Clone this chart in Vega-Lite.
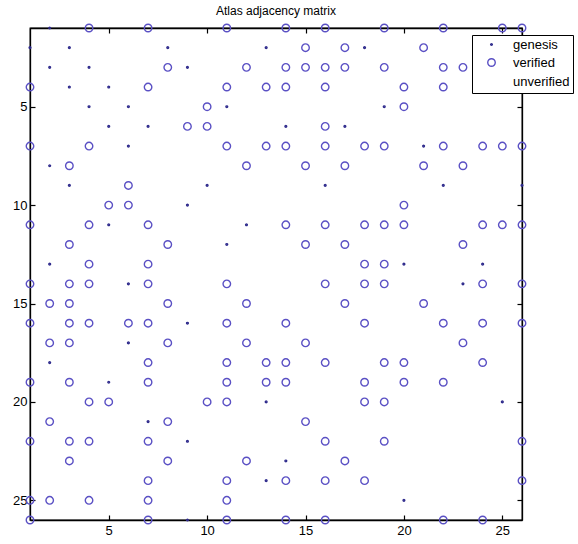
{
  "$schema": "https://vega.github.io/schema/vega-lite/v6.json",
  "autosize": {"type": "none"},
  "padding": {"left": 30, "top": 28, "right": 56, "bottom": 24},
  "width": 492,
  "height": 492,
  "background": "white",
  "title": {"text": "Atlas adjacency matrix", "font": "Liberation Sans", "fontSize": 12, "fontWeight": "normal", "color": "black", "offset": 3},
  "config": {
    "view": {"stroke": "black", "strokeWidth": 1.3},
    "axis": {"grid": false, "domainColor": "black", "domainWidth": 1.3, "tickColor": "black", "tickWidth": 1.2, "labelColor": "black", "labelFont": "Liberation Sans", "labelFontSize": 13, "tickSize": -5, "title": null}
  },
  "data": {"values": [
    {"row":1,"col":2,"type":"genesis"},{"row":1,"col":4,"type":"verified"},{"row":1,"col":7,"type":"verified"},{"row":1,"col":11,"type":"verified"},{"row":1,"col":14,"type":"verified"},{"row":1,"col":16,"type":"verified"},{"row":1,"col":19,"type":"verified"},{"row":1,"col":22,"type":"verified"},{"row":1,"col":25,"type":"verified"},{"row":1,"col":26,"type":"verified"},
    {"row":2,"col":1,"type":"genesis"},{"row":2,"col":3,"type":"genesis"},{"row":2,"col":8,"type":"genesis"},{"row":2,"col":13,"type":"genesis"},{"row":2,"col":18,"type":"genesis"},{"row":2,"col":15,"type":"verified"},{"row":2,"col":17,"type":"verified"},{"row":2,"col":21,"type":"verified"},{"row":2,"col":25,"type":"verified"},
    {"row":3,"col":2,"type":"genesis"},{"row":3,"col":4,"type":"genesis"},{"row":3,"col":9,"type":"genesis"},{"row":3,"col":8,"type":"verified"},{"row":3,"col":12,"type":"verified"},{"row":3,"col":14,"type":"verified"},{"row":3,"col":15,"type":"verified"},{"row":3,"col":16,"type":"verified"},{"row":3,"col":17,"type":"verified"},{"row":3,"col":19,"type":"verified"},{"row":3,"col":22,"type":"verified"},{"row":3,"col":23,"type":"verified"},
    {"row":4,"col":3,"type":"genesis"},{"row":4,"col":5,"type":"genesis"},{"row":4,"col":1,"type":"verified"},{"row":4,"col":7,"type":"verified"},{"row":4,"col":11,"type":"verified"},{"row":4,"col":13,"type":"verified"},{"row":4,"col":14,"type":"verified"},{"row":4,"col":16,"type":"verified"},{"row":4,"col":20,"type":"verified"},{"row":4,"col":22,"type":"verified"},{"row":4,"col":25,"type":"verified"},
    {"row":5,"col":4,"type":"genesis"},{"row":5,"col":6,"type":"genesis"},{"row":5,"col":11,"type":"genesis"},{"row":5,"col":19,"type":"genesis"},{"row":5,"col":10,"type":"verified"},{"row":5,"col":20,"type":"verified"},
    {"row":6,"col":5,"type":"genesis"},{"row":6,"col":7,"type":"genesis"},{"row":6,"col":14,"type":"genesis"},{"row":6,"col":17,"type":"genesis"},{"row":6,"col":9,"type":"verified"},{"row":6,"col":10,"type":"verified"},{"row":6,"col":16,"type":"verified"},
    {"row":7,"col":6,"type":"genesis"},{"row":7,"col":21,"type":"genesis"},{"row":7,"col":1,"type":"verified"},{"row":7,"col":4,"type":"verified"},{"row":7,"col":11,"type":"verified"},{"row":7,"col":13,"type":"verified"},{"row":7,"col":14,"type":"verified"},{"row":7,"col":16,"type":"verified"},{"row":7,"col":18,"type":"verified"},{"row":7,"col":19,"type":"verified"},{"row":7,"col":22,"type":"verified"},{"row":7,"col":24,"type":"verified"},{"row":7,"col":25,"type":"verified"},{"row":7,"col":26,"type":"verified"},
    {"row":8,"col":2,"type":"genesis"},{"row":8,"col":3,"type":"verified"},{"row":8,"col":12,"type":"verified"},{"row":8,"col":15,"type":"verified"},{"row":8,"col":17,"type":"verified"},{"row":8,"col":21,"type":"verified"},{"row":8,"col":23,"type":"verified"},
    {"row":9,"col":3,"type":"genesis"},{"row":9,"col":10,"type":"genesis"},{"row":9,"col":16,"type":"genesis"},{"row":9,"col":22,"type":"genesis"},{"row":9,"col":26,"type":"genesis"},{"row":9,"col":6,"type":"verified"},
    {"row":10,"col":9,"type":"genesis"},{"row":10,"col":5,"type":"verified"},{"row":10,"col":6,"type":"verified"},{"row":10,"col":20,"type":"verified"},
    {"row":11,"col":5,"type":"genesis"},{"row":11,"col":12,"type":"genesis"},{"row":11,"col":1,"type":"verified"},{"row":11,"col":4,"type":"verified"},{"row":11,"col":7,"type":"verified"},{"row":11,"col":14,"type":"verified"},{"row":11,"col":16,"type":"verified"},{"row":11,"col":18,"type":"verified"},{"row":11,"col":19,"type":"verified"},{"row":11,"col":20,"type":"verified"},{"row":11,"col":24,"type":"verified"},{"row":11,"col":25,"type":"verified"},{"row":11,"col":26,"type":"verified"},
    {"row":12,"col":11,"type":"genesis"},{"row":12,"col":3,"type":"verified"},{"row":12,"col":8,"type":"verified"},{"row":12,"col":15,"type":"verified"},{"row":12,"col":17,"type":"verified"},{"row":12,"col":23,"type":"verified"},
    {"row":13,"col":2,"type":"genesis"},{"row":13,"col":20,"type":"genesis"},{"row":13,"col":24,"type":"genesis"},{"row":13,"col":4,"type":"verified"},{"row":13,"col":7,"type":"verified"},{"row":13,"col":18,"type":"verified"},{"row":13,"col":19,"type":"verified"},
    {"row":14,"col":6,"type":"genesis"},{"row":14,"col":23,"type":"genesis"},{"row":14,"col":1,"type":"verified"},{"row":14,"col":3,"type":"verified"},{"row":14,"col":4,"type":"verified"},{"row":14,"col":7,"type":"verified"},{"row":14,"col":11,"type":"verified"},{"row":14,"col":16,"type":"verified"},{"row":14,"col":18,"type":"verified"},{"row":14,"col":19,"type":"verified"},{"row":14,"col":24,"type":"verified"},{"row":14,"col":26,"type":"verified"},
    {"row":15,"col":2,"type":"verified"},{"row":15,"col":3,"type":"verified"},{"row":15,"col":8,"type":"verified"},{"row":15,"col":12,"type":"verified"},{"row":15,"col":17,"type":"verified"},{"row":15,"col":21,"type":"verified"},
    {"row":16,"col":9,"type":"genesis"},{"row":16,"col":1,"type":"verified"},{"row":16,"col":3,"type":"verified"},{"row":16,"col":4,"type":"verified"},{"row":16,"col":6,"type":"verified"},{"row":16,"col":7,"type":"verified"},{"row":16,"col":11,"type":"verified"},{"row":16,"col":14,"type":"verified"},{"row":16,"col":18,"type":"verified"},{"row":16,"col":22,"type":"verified"},{"row":16,"col":24,"type":"verified"},{"row":16,"col":26,"type":"verified"},
    {"row":17,"col":6,"type":"genesis"},{"row":17,"col":2,"type":"verified"},{"row":17,"col":3,"type":"verified"},{"row":17,"col":8,"type":"verified"},{"row":17,"col":12,"type":"verified"},{"row":17,"col":15,"type":"verified"},{"row":17,"col":23,"type":"verified"},
    {"row":18,"col":2,"type":"genesis"},{"row":18,"col":7,"type":"verified"},{"row":18,"col":11,"type":"verified"},{"row":18,"col":13,"type":"verified"},{"row":18,"col":14,"type":"verified"},{"row":18,"col":16,"type":"verified"},{"row":18,"col":19,"type":"verified"},{"row":18,"col":20,"type":"verified"},{"row":18,"col":24,"type":"verified"},
    {"row":19,"col":5,"type":"genesis"},{"row":19,"col":1,"type":"verified"},{"row":19,"col":3,"type":"verified"},{"row":19,"col":7,"type":"verified"},{"row":19,"col":11,"type":"verified"},{"row":19,"col":13,"type":"verified"},{"row":19,"col":14,"type":"verified"},{"row":19,"col":18,"type":"verified"},{"row":19,"col":20,"type":"verified"},{"row":19,"col":22,"type":"verified"},
    {"row":20,"col":13,"type":"genesis"},{"row":20,"col":25,"type":"genesis"},{"row":20,"col":4,"type":"verified"},{"row":20,"col":5,"type":"verified"},{"row":20,"col":10,"type":"verified"},{"row":20,"col":11,"type":"verified"},{"row":20,"col":18,"type":"verified"},{"row":20,"col":19,"type":"verified"},
    {"row":21,"col":7,"type":"genesis"},{"row":21,"col":2,"type":"verified"},{"row":21,"col":8,"type":"verified"},{"row":21,"col":15,"type":"verified"},
    {"row":22,"col":9,"type":"genesis"},{"row":22,"col":1,"type":"verified"},{"row":22,"col":3,"type":"verified"},{"row":22,"col":4,"type":"verified"},{"row":22,"col":7,"type":"verified"},{"row":22,"col":16,"type":"verified"},{"row":22,"col":19,"type":"verified"},{"row":22,"col":26,"type":"verified"},
    {"row":23,"col":14,"type":"genesis"},{"row":23,"col":3,"type":"verified"},{"row":23,"col":8,"type":"verified"},{"row":23,"col":12,"type":"verified"},{"row":23,"col":17,"type":"verified"},
    {"row":24,"col":13,"type":"genesis"},{"row":24,"col":7,"type":"verified"},{"row":24,"col":11,"type":"verified"},{"row":24,"col":14,"type":"verified"},{"row":24,"col":16,"type":"verified"},{"row":24,"col":18,"type":"verified"},{"row":24,"col":26,"type":"verified"},
    {"row":25,"col":20,"type":"genesis"},{"row":25,"col":1,"type":"verified"},{"row":25,"col":2,"type":"verified"},{"row":25,"col":4,"type":"verified"},{"row":25,"col":7,"type":"verified"},{"row":25,"col":11,"type":"verified"},
    {"row":26,"col":9,"type":"genesis"},{"row":26,"col":1,"type":"verified"},{"row":26,"col":7,"type":"verified"},{"row":26,"col":11,"type":"verified"},{"row":26,"col":14,"type":"verified"},{"row":26,"col":16,"type":"verified"},{"row":26,"col":22,"type":"verified"},{"row":26,"col":24,"type":"verified"}
  ]},
  "layer": [
    {
      "mark": {"type": "point", "filled": false, "strokeWidth": 1.4, "opacity": 1, "clip": false},
      "encoding": {
        "x": {"field": "col", "type": "quantitative", "scale": {"domain": [1, 26], "nice": false, "zero": false}, "axis": {"orient": "bottom", "values": [5, 10, 15, 20, 25], "labelPadding": 9}},
        "y": {"field": "row", "type": "quantitative", "scale": {"domain": [1, 26], "nice": false, "zero": false, "reverse": true}, "axis": {"orient": "left", "values": [5, 10, 15, 20, 25], "labelPadding": 8}},
        "color": {"field": "type", "type": "nominal", "scale": {"domain": ["genesis", "verified", "unverified"], "range": ["#2e2a8c", "#5a50c4", "transparent"]}, "legend": {"orient": "none", "legendX": 442, "legendY": 7, "title": null, "strokeColor": "black", "fillColor": "white", "padding": 3, "rowPadding": 3, "symbolOffset": 10, "labelOffset": 15, "labelFont": "Liberation Sans", "labelFontSize": 13, "labelColor": "black", "symbolStrokeWidth": 1.4, "symbolOpacity": 1}},
        "size": {"field": "type", "type": "nominal", "scale": {"domain": ["genesis", "verified", "unverified"], "range": [3, 110, 110]}}
      }
    },
    {
      "mark": {"type": "point", "opacity": 0},
      "encoding": {
        "x": {"field": "col", "type": "quantitative", "axis": {"orient": "top", "values": [5, 10, 15, 20, 25], "labels": false}},
        "y": {"field": "row", "type": "quantitative", "axis": {"orient": "right", "values": [5, 10, 15, 20, 25], "labels": false}}
      }
    }
  ],
  "resolve": {"axis": {"x": "independent", "y": "independent"}}
}
